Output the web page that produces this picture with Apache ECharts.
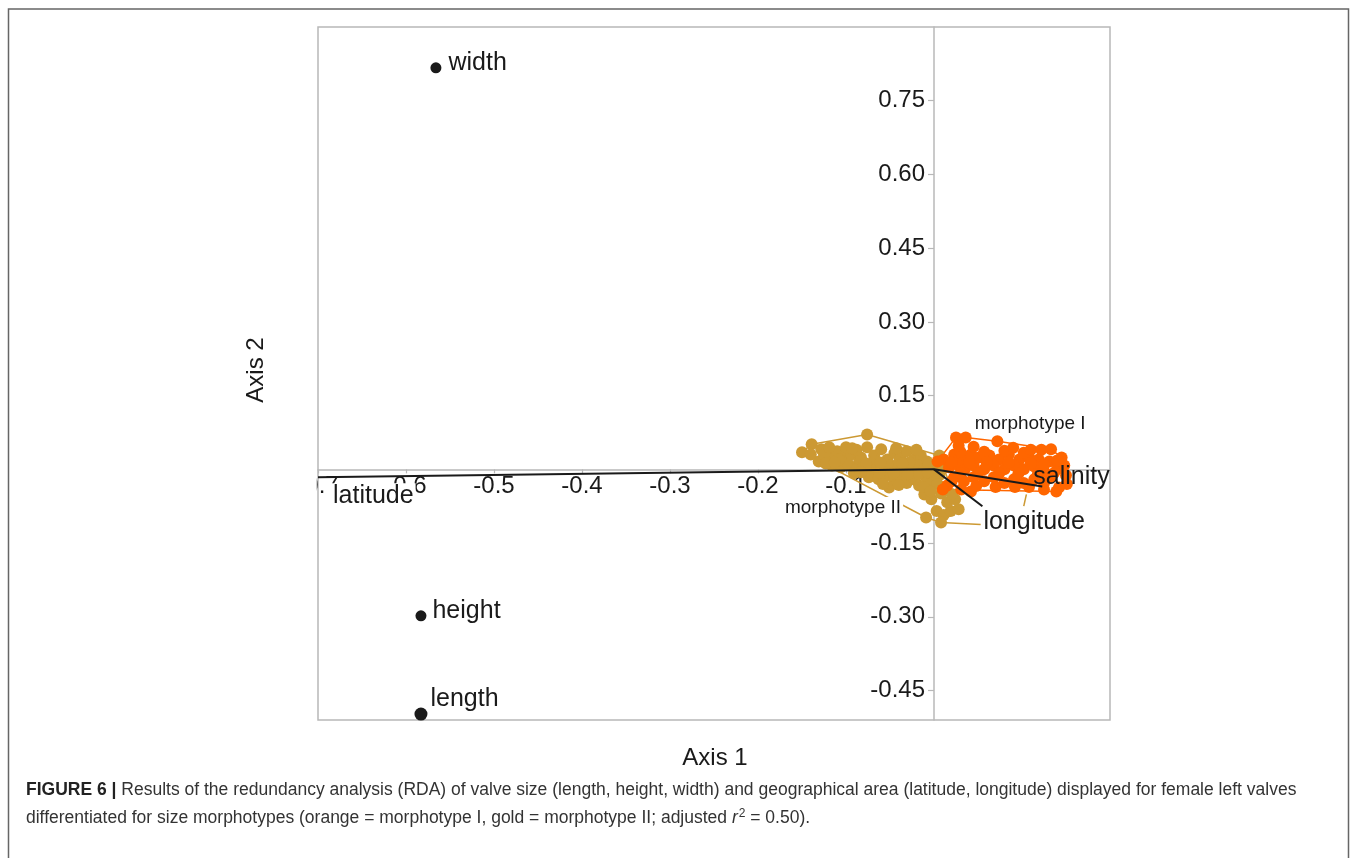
<!DOCTYPE html>
<html><head><meta charset="utf-8">
<script src="https://cdn.jsdelivr.net/npm/echarts@6/dist/echarts.min.js"></script>
<style>html,body{margin:0;padding:0;background:#fff}#c{width:1357px;height:858px}</style>
</head><body><div id="c"></div>
<script>
// ---- data ----
const xTicks = [-0.7, -0.6, -0.5, -0.4, -0.3, -0.2, -0.1];
const yTicks = [-0.45, -0.30, -0.15, 0.15, 0.30, 0.45, 0.60, 0.75];

const goldPoints = [
  [-0.150,0.035],[-0.139,0.051],[-0.128,0.041],[-0.119,0.026],[-0.110,0.037],[-0.102,0.024],[-0.094,0.030],
  [-0.076,0.071],[-0.076,0.045],[-0.085,0.016],[-0.068,0.028],[-0.060,0.041],[-0.053,0.020],[-0.045,0.033],
  [-0.038,0.024],[-0.031,0.037],[-0.023,0.020],[-0.015,0.028],[-0.008,0.016],
  [-0.131,0.016],[-0.116,0.008],[-0.106,0.004],[-0.097,0.010],[-0.088,0.000],[-0.080,0.006],[-0.072,-0.004],
  [-0.065,0.008],[-0.057,0.000],[-0.049,0.008],[-0.042,-0.004],[-0.034,0.004],[-0.026,-0.004],[-0.019,0.008],
  [-0.011,0.000],[-0.003,0.004],
  [-0.074,-0.016],[-0.063,-0.020],[-0.053,-0.012],[-0.045,-0.024],[-0.038,-0.016],[-0.031,-0.028],[-0.023,-0.020],
  [-0.017,-0.033],[-0.009,-0.016],[-0.002,-0.028],[0.006,-0.012],[0.011,0.004],
  [-0.011,-0.051],[-0.003,-0.061],[0.008,-0.049],[0.015,-0.067],[0.024,-0.061],[0.003,-0.085],[-0.009,-0.098],
  [0.011,-0.093],[0.008,-0.108],[0.019,-0.085],[0.028,-0.081],
  [-0.108,0.020],[-0.083,0.024],[-0.040,0.014],[-0.017,-0.010],[0.000,-0.010],[-0.028,0.014],[-0.068,0.016],
  [-0.091,-0.008],[-0.051,-0.037],[0.006,0.028],[-0.140,0.030],[-0.125,0.030],[-0.100,0.045],[-0.088,0.040],
  [-0.119,0.045],[-0.093,0.043],[-0.043,0.043],[-0.020,0.040],
  [-0.123,0.012],[-0.113,0.014],[-0.077,0.012],[-0.061,0.014],[-0.036,0.012],[-0.006,0.010],[0.005,0.012],
  [-0.083,-0.006],[-0.062,-0.008],[-0.046,-0.008],[-0.030,-0.010],[-0.007,-0.006],[0.008,-0.002],
  [-0.058,-0.030],[-0.040,-0.032],[-0.012,-0.036],[0.004,-0.030],
  [-0.004,-0.045],[0.012,-0.040],[0.020,-0.050]
];
const orangePoints = [
  [0.025,0.065],[0.036,0.065],[0.072,0.057],[0.133,0.041],[0.145,0.024],
  [0.011,0.020],[0.023,0.030],[0.032,0.020],[0.042,0.030],[0.051,0.024],[0.063,0.028],[0.074,0.020],[0.085,0.030],
  [0.097,0.020],[0.108,0.024],[0.119,0.020],[0.131,0.016],
  [0.017,0.004],[0.026,0.010],[0.035,0.000],[0.045,0.008],[0.057,0.000],[0.068,0.008],[0.080,0.000],[0.091,0.008],
  [0.102,0.000],[0.114,0.006],[0.125,-0.004],[0.140,0.000],[0.148,0.008],
  [0.023,-0.016],[0.034,-0.024],[0.045,-0.016],[0.057,-0.024],[0.068,-0.016],[0.080,-0.028],[0.091,-0.020],
  [0.102,-0.028],[0.114,-0.020],[0.125,-0.028],[0.133,-0.016],[0.142,-0.037],[0.151,-0.030],[0.125,-0.041],
  [0.031,-0.041],[0.042,-0.045],[0.015,-0.033],[0.004,0.016],[0.010,-0.041],[0.139,-0.045],
  [0.030,0.036],[0.057,0.036],[0.080,0.038],[0.102,0.034],
  [0.028,0.048],[0.045,0.046],[0.090,0.044],[0.110,0.040],[0.122,0.040],
  [0.020,0.014],[0.040,0.014],[0.060,0.014],[0.085,0.014],[0.110,0.012],[0.125,0.010],[0.140,0.018],
  [0.030,-0.008],[0.050,-0.008],[0.074,-0.008],[0.096,-0.008],[0.118,-0.010],[0.136,-0.008],[0.150,-0.012],
  [0.048,-0.034],[0.070,-0.036],[0.092,-0.036],[0.108,-0.036],[0.020,-0.024]
];
const goldHull = [[-0.150,0.035],[-0.139,0.051],[-0.076,0.071],[0.006,0.028],[0.028,-0.081],[0.008,-0.108],[-0.009,-0.098],[-0.150,0.035]];
const orangeHull = [[0.004,0.016],[0.025,0.065],[0.036,0.065],[0.072,0.057],[0.133,0.041],[0.145,0.024],[0.151,-0.030],[0.139,-0.045],[0.010,-0.041],[0.004,0.016]];
const goldLeaders = [
  [[0.008,-0.108],[0.053,-0.112]],
  [[0.105,-0.051],[0.102,-0.075]]
];
const groupNames = ['morphotype I', 'morphotype II'];
const groupAnchors = [[0.036,0.065],[-0.009,-0.098]];

const loadingNames = ['width', 'height', 'length'];
const loadingPoints = [[-0.566,0.817],[-0.583,-0.298],[-0.583,-0.498]];
const vectorNames = ['latitude', 'salinity', 'longitude'];
const vectorEnds = [[-0.70,-0.016],[0.123,-0.035],[0.055,-0.075]];

// ---- styles ----
const FONT = 'Liberation Sans, Arial, sans-serif';
const GOLD = '#CC9933', ORANGE = '#FF6600', INK = '#1a1a1a';
const loadingStyle = [
  {size: 11, distance: 7, offset: [0,-5]},
  {size: 11, distance: 6, offset: [0,-5]},
  {size: 13, distance: 3, offset: [0,-15]}
];
const vectorLabelStyle = [
  {position: 'right', offset: [10, 19], bg: '#fff'},
  {position: 'right', offset: [-9, -9], bg: null},
  {position: 'right', offset: [1, 16], bg: null}
];
const groupLabelStyle = [
  {position: 'right', offset: [9, -14], bg: null},
  {position: 'left', offset: [-23, -10], bg: '#fff'}
];

const chart = echarts.init(document.getElementById('c'), null, {renderer: 'canvas'});

const series = [];
// tick labels placed on the zero lines through the axis scales
series.push({
  type: 'scatter', z: 1, silent: true, clip: false, symbolSize: 0, itemStyle: {color: 'transparent', opacity: 1},
  data: xTicks.map(v => ({value: [v, 0], label: {show: true, position: 'bottom', distance: 5, opacity: 1,
    formatter: v.toFixed(1), fontSize: 24, color: INK, fontFamily: FONT}}))
});
series.push({
  type: 'scatter', z: 1, silent: true, clip: false, symbolSize: 0, itemStyle: {color: 'transparent', opacity: 1},
  data: yTicks.map(v => ({value: [0, v], label: {show: true, position: 'left', distance: 9, opacity: 1,
    formatter: v.toFixed(2), fontSize: 24, color: INK, fontFamily: FONT}}))
});
series.push({type:'scatter', data: goldPoints, symbolSize: 12, itemStyle:{color: GOLD, opacity: 1}, z: 3, silent: true});
series.push({type:'scatter', data: orangePoints, symbolSize: 12, itemStyle:{color: ORANGE, opacity: 1}, z: 3, silent: true});
series.push({type:'line', data: goldHull, symbol:'none', lineStyle:{color: GOLD, width: 1.5}, z: 2, silent: true});
series.push({type:'line', data: orangeHull, symbol:'none', lineStyle:{color: ORANGE, width: 1.5}, z: 2, silent: true});
goldLeaders.forEach(seg => series.push({type:'line', data: seg, symbol:'none', lineStyle:{color: GOLD, width: 1.5}, z: 2, silent: true}));
vectorEnds.forEach(end => series.push({type:'line', data: [[0,0], end], symbol:'none', lineStyle:{color: INK, width: 2}, z: 4, silent: true}));
series.push({
  type:'scatter', z: 6, silent: true,
  data: loadingPoints.map((p, i) => ({
    value: p, name: loadingNames[i], symbolSize: loadingStyle[i].size,
    label: {show: true, position: 'right', distance: loadingStyle[i].distance, offset: loadingStyle[i].offset,
            formatter: loadingNames[i], fontSize: 25, color: INK, fontFamily: FONT, opacity: 1}
  })),
  itemStyle: {color: INK, opacity: 1}
});
series.push({
  type:'scatter', z: 7, silent: true, clip: false, symbolSize: 0,
  data: vectorEnds.map((p, i) => ({
    value: p, name: vectorNames[i],
    label: {show: true, position: vectorLabelStyle[i].position, distance: 0, offset: vectorLabelStyle[i].offset,
            formatter: vectorNames[i], fontSize: 25, color: INK, fontFamily: FONT, opacity: 1,
            backgroundColor: vectorLabelStyle[i].bg || 'transparent', padding: vectorLabelStyle[i].bg ? [1,2,0,5] : 0}
  })),
  itemStyle: {color: 'transparent', opacity: 1}
});
series.push({
  type:'scatter', z: 7, silent: true, clip: false, symbolSize: 0,
  data: groupAnchors.map((p, i) => ({
    value: p, name: groupNames[i],
    label: {show: true, position: groupLabelStyle[i].position, distance: 0, offset: groupLabelStyle[i].offset,
            formatter: groupNames[i], fontSize: 19, color: INK, fontFamily: FONT, opacity: 1,
            backgroundColor: groupLabelStyle[i].bg || 'transparent', padding: groupLabelStyle[i].bg ? [1,2,1,2] : 0}
  })),
  itemStyle: {color: 'transparent', opacity: 1}
});

const axisGray = '#b8b8b8';
chart.setOption({
  animation: false,
  backgroundColor: '#fff',
  grid: {left: 318, top: 27, width: 792, height: 693, show: true, borderColor: axisGray, borderWidth: 1.5,
         backgroundColor: 'transparent', containLabel: false, outerBoundsMode: 'none'},
  xAxis: {
    type: 'value', min: -0.7, max: 0.2,
    axisLine: {show: true, onZero: true, lineStyle: {color: axisGray, width: 1.5}},
    axisTick: {show: true, length: 4, lineStyle: {color: axisGray, width: 1.2}, customValues: xTicks},
    axisLabel: {show: false},
    splitLine: {show: false}
  },
  yAxis: {
    type: 'value', min: -0.51, max: 0.9,
    axisLine: {show: true, onZero: true, lineStyle: {color: axisGray, width: 1.5}},
    axisTick: {show: true, length: 6, lineStyle: {color: axisGray, width: 1.2}, customValues: yTicks},
    axisLabel: {show: false},
    splitLine: {show: false}
  },
  series: series,
  graphic: [
    {type: 'rect', shape: {x: 200, y: 472, width: 116.8, height: 30}, style: {fill: '#fff'}, z: 50, silent: true},
    {type: 'rect', shape: {x: 8.5, y: 9, width: 1340, height: 900}, style: {fill: 'none', stroke: '#666', lineWidth: 1.5}, z: 60, silent: true},
    {type: 'text', x: 715, y: 758, z: 60, style: {text: 'Axis 1', fontSize: 24, fontFamily: FONT, fill: INK, align: 'center', verticalAlign: 'middle'}},
    {type: 'text', x: 256, y: 370, rotation: Math.PI / 2, z: 60, style: {text: 'Axis 2', fontSize: 24, fontFamily: FONT, fill: INK, align: 'center', verticalAlign: 'middle'}},
    {type: 'text', x: 26, y: 790, z: 60, style: {
      text: '{b|FIGURE 6 |} Results of the redundancy analysis (RDA) of valve size (length, height, width) and geographical area (latitude, longitude) displayed for female left valves',
      fontSize: 17.5, fontFamily: FONT, fill: '#333', verticalAlign: 'middle',
      rich: {b: {fontWeight: 'bold', fontSize: 17.5, fontFamily: FONT, fill: '#222'}}}},
    {type: 'text', x: 26, y: 818, z: 60, style: {
      text: 'differentiated for size morphotypes (orange = morphotype I, gold = morphotype II; adjusted {i|r}{s|2} = 0.50).',
      fontSize: 17.5, fontFamily: FONT, fill: '#333', verticalAlign: 'middle',
      rich: {i: {fontStyle: 'italic', fontSize: 17.5, fontFamily: FONT, fill: '#333'},
             s: {fontSize: 12, fontFamily: FONT, fill: '#333', verticalAlign: 'top', padding: [0, 0, 9, 1]}}}}
  ]
});
</script></body></html>
